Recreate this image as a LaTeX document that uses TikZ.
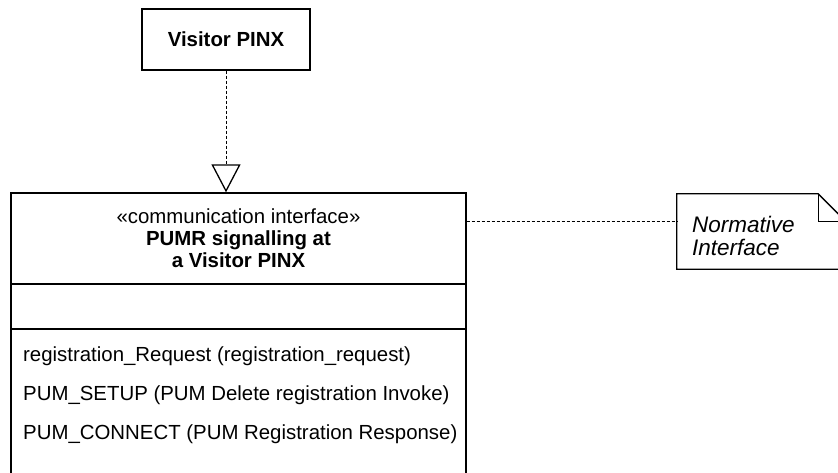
\documentclass[tikz,border=0pt]{standalone}
\usepackage{fontspec}
\setmainfont{Liberation Sans}
\usetikzlibrary{arrows.meta,calc}
\newcommand\diagfont{\fontsize{20.4}{22}\selectfont}
\newcommand\notefont{\fontsize{22.5}{23.5}\selectfont}
\begin{document}
\begin{tikzpicture}[x=1pt,y=-1pt,
  every node/.style={font=\diagfont, inner sep=0pt},
  boxline/.style={line width=1.3pt},
  classbox/.style={draw, boxline, rectangle, inner sep=0pt},
  dashline/.style={line width=1pt, dash pattern=on 3pt off 2pt},
  realize/.style={dashline, -{Triangle[open, length=28pt, width=29pt, line width=1.3pt]}},
  notebox/.style={rectangle, inner sep=0pt}]
\useasboundingbox (0,0) rectangle (838,472);
\clip (0,0) rectangle (838,472);
% Visitor PINX
\node[classbox, minimum width=168pt, minimum height=61pt, font=\bfseries\diagfont] (visitor) at (226,39.5) {Visitor PINX};
% interface class
\node[classbox, minimum width=455pt, minimum height=307pt] (iface) at (238.5,346.5) {};
\draw[boxline] (iface.west |- 0,284) -- (iface.east |- 0,284);
\draw[boxline] (iface.west |- 0,329) -- (iface.east |- 0,329);
\node[align=center] (title) at (238.5,238.5) {«communication interface»\\\textbf{PUMR signalling at}\\\textbf{a Visitor PINX}};
\node[anchor=base west] (a1) at (23,361) {registration\_Request (registration\_request)};
\node[anchor=base west] (a2) at (23,400) {PUM\_SETUP (PUM Delete registration Invoke)};
\node[anchor=base west] (a3) at (23,439) {PUM\_CONNECT (PUM Registration Response)};
% realization arrow
\draw[realize] (visitor.south) -- (visitor.south |- iface.north);
% note
\node[notebox, minimum width=169pt, minimum height=75pt] (note) at (761.5,231.5) {};
\draw[boxline] (note.north west) -- ($(note.north east)+(-28,0)$) -- ($(note.north east)+(0,28)$) -- (note.south east) -- (note.south west) -- cycle;
\draw[boxline] ($(note.north east)+(-28,0)$) -- ($(note.north east)+(-28,28)$) -- ($(note.north east)+(0,28)$);
\node[anchor=west, align=left, font=\itshape\notefont] (notetext) at (692,236) {Normative\\Interface};
\coordinate (nc) at ($(note.north west)+(0,28)$);
\draw[dashline] (iface.east |- nc) -- (nc);
\end{tikzpicture}
\end{document}
